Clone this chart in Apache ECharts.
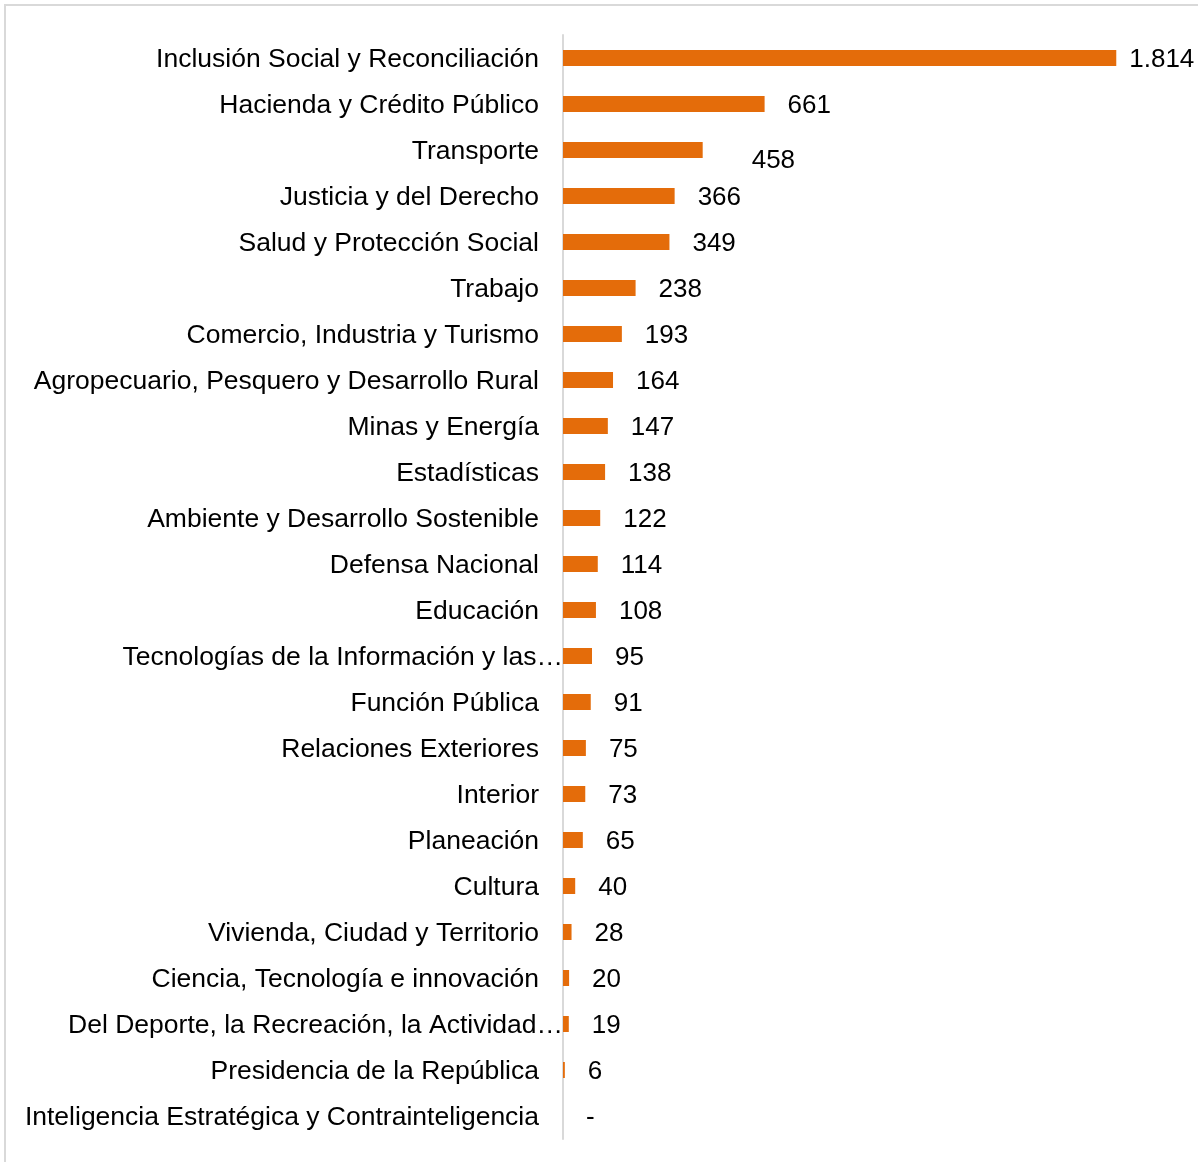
<!DOCTYPE html>
<html>
<head>
<meta charset="utf-8">
<script src="https://cdn.jsdelivr.net/npm/echarts@6/dist/echarts.min.js"></script>
<style>
html,body{margin:0;padding:0;background:#fff;}
#c{width:1198px;height:1162px;}
</style>
</head>
<body>
<div id="c"></div>
<script>
const categories = [
  'Inclusión Social y Reconciliación',
  'Hacienda y Crédito Público',
  'Transporte',
  'Justicia y del Derecho',
  'Salud y Protección Social',
  'Trabajo',
  'Comercio, Industria y Turismo',
  'Agropecuario, Pesquero y Desarrollo Rural',
  'Minas y Energía',
  'Estadísticas',
  'Ambiente y Desarrollo Sostenible',
  'Defensa Nacional',
  'Educación',
  'Tecnologías de la Información y las…',
  'Función Pública',
  'Relaciones Exteriores',
  'Interior',
  'Planeación',
  'Cultura',
  'Vivienda, Ciudad y Territorio',
  'Ciencia, Tecnología e innovación',
  'Del Deporte, la Recreación, la Actividad…',
  'Presidencia de la República',
  'Inteligencia Estratégica y Contrainteligencia'
];
const values = [1814, 661, 458, 366, 349, 238, 193, 164, 147, 138, 122, 114, 108, 95, 91, 75, 73, 65, 40, 28, 20, 19, 6, 0];

const fmtNum = v => v === 0 ? '-' : v.toLocaleString('de-DE');

const seriesData = values.map((v, i) => {
  const item = { value: v };
  if (i === 0) item.label = { distance: 13 };
  if (i === 2) item.label = { offset: [26, 11] };
  return item;
});

const FONT = 'Liberation Sans, Arial, sans-serif';
const chart = echarts.init(document.getElementById('c'));
chart.setOption({
  animation: false,
  backgroundColor: '#fff',
  graphic: [{
    type: 'rect',
    shape: { x: 5, y: 5, width: 1220, height: 1180 },
    style: { fill: 'none', stroke: '#d9d9d9', lineWidth: 2 },
    silent: true
  }],
  grid: { left: 563, top: 35, width: 610, height: 1104, containLabel: false },
  xAxis: {
    type: 'value', min: 0, max: 2000,
    show: false
  },
  yAxis: {
    type: 'category',
    inverse: true,
    data: categories,
    axisLine: { show: true, lineStyle: { color: '#d9d9d9', width: 2 } },
    axisTick: { show: false },
    axisLabel: {
      margin: 0,
      interval: 0,
      fontFamily: FONT,
      fontSize: 26.5,
      color: '#000',
      formatter: v => (v.endsWith('…') ? '{e|' + v + '}' : '{n|' + v + '}'),
      rich: {
        n: { fontFamily: FONT, fontSize: 26.5, color: '#000', padding: [3, 24, 0, 0] },
        e: { fontFamily: FONT, fontSize: 26.5, color: '#000', padding: [3, 0, 0, 0] }
      }
    }
  },
  series: [{
    type: 'bar',
    data: seriesData,
    barWidth: 16,
    itemStyle: { color: '#E46C0A' },
    label: {
      show: true,
      position: 'right',
      distance: 23,
      offset: [0, 2],
      fontFamily: FONT,
      fontSize: 26,
      color: '#000',
      formatter: p => fmtNum(p.value)
    }
  }]
});
</script>
</body>
</html>
